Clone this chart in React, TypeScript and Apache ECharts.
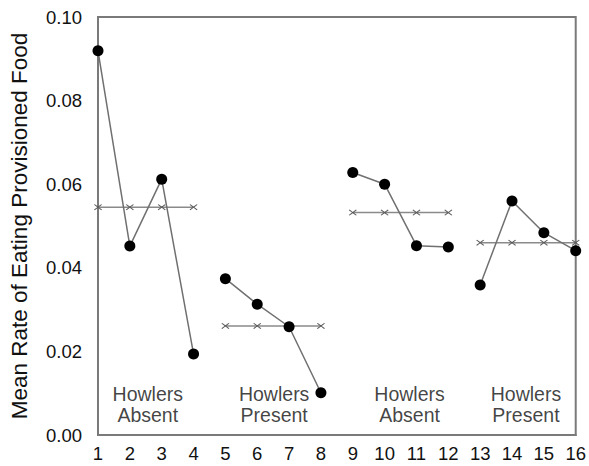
import React, { useEffect, useRef } from "react";
import * as echarts from "echarts";

const sessions = [1, 2, 3, 4, 5, 6, 7, 8, 9, 10, 11, 12, 13, 14, 15, 16];
const observedRates = [
  0.0919, 0.0452, 0.0612, 0.0194,
  0.0374, 0.0313, 0.0259, 0.0101,
  0.0628, 0.06, 0.0453, 0.045,
  0.0359, 0.056, 0.0484, 0.0441,
];
const groupMeans = [0.0545, 0.0261, 0.0532, 0.046];
const groupNames = ["Howlers\nAbsent", "Howlers\nPresent", "Howlers\nAbsent", "Howlers\nPresent"];
const yTicks = [0, 0.02, 0.04, 0.06, 0.08, 0.1];
const yTitle = "Mean Rate of Eating Provisioned Food";

const FONT = "'Liberation Sans', Arial, sans-serif";
const crossPath =
  "path://M0,1L1,0L5,4L9,0L10,1L6,5L10,9L9,10L5,6L1,10L0,9L4,5Z";

export default function App() {
  const ref = useRef<HTMLDivElement>(null);
  useEffect(() => {
    if (!ref.current) return;
    const chart = echarts.init(ref.current, null, { renderer: "svg" });
    const groupSize = 4;
    const series: any[] = [];
    const labelOffsets = [[2, 0], [1, 0], [9, 0], [-2, 0]];
    for (let g = 0; g < groupMeans.length; g++) {
      const xs = sessions.slice(g * groupSize, (g + 1) * groupSize);
      series.push({
        type: "line",
        data: xs.map((x) => [x, groupMeans[g]]),
        symbol: crossPath,
        symbolSize: [8, 6],
        showSymbol: true,
        lineStyle: { color: "#8a8a8a", width: 1.5 },
        itemStyle: { color: "#5a5a5a" },
        z: 2,
      });
      series.push({
        type: "line",
        data: xs.map((x, i) => [x, observedRates[g * groupSize + i]]),
        symbol: "circle",
        symbolSize: 11,
        lineStyle: { color: "#707070", width: 1.5 },
        itemStyle: { color: "#000000" },
        z: 3,
      });
      series.push({
        type: "scatter",
        data: [[(xs[0] + xs[xs.length - 1]) / 2, 0.0074]],
        symbolSize: 0,
        silent: true,
        label: {
          show: true,
          position: "inside",
          offset: labelOffsets[g],
          formatter: groupNames[g],
          fontFamily: FONT,
          fontSize: 19.5,
          lineHeight: 21,
          color: "#111111",
          align: "center",
        },
      });
    }
    chart.setOption({
      animation: false,
      grid: {
        left: 98,
        right: 9,
        top: 17,
        bottom: 31,
        show: true,
        borderColor: "#7a7a7a",
        borderWidth: 2,
      },
      xAxis: {
        type: "value",
        min: sessions[0],
        max: sessions[sessions.length - 1],
        interval: 1,
        splitLine: { show: false },
        axisTick: { show: false },
        axisLine: { show: true, lineStyle: { color: "#7a7a7a", width: 2 } },
        axisLabel: { fontFamily: FONT, fontSize: 18.5, color: "#111111", margin: 9 },
      },
      yAxis: {
        type: "value",
        min: yTicks[0],
        max: yTicks[yTicks.length - 1],
        interval: 0.02,
        name: yTitle,
        nameLocation: "middle",
        nameGap: 67,
        nameTextStyle: { fontFamily: FONT, fontSize: 22.5, color: "#111111" },
        splitLine: { show: false },
        axisTick: { show: false },
        axisLine: { show: true, lineStyle: { color: "#7a7a7a", width: 2 } },
        axisLabel: {
          fontFamily: FONT,
          fontSize: 18.5,
          color: "#111111",
          margin: 16,
          formatter: (v: number) => v.toFixed(2),
        },
      },
      series,
    });
    return () => chart.dispose();
  }, []);
  return (
    <div
      ref={ref}
      style={{ position: "fixed", left: 0, top: 0, width: 589, height: 466, background: "#fff" }}
    />
  );
}
